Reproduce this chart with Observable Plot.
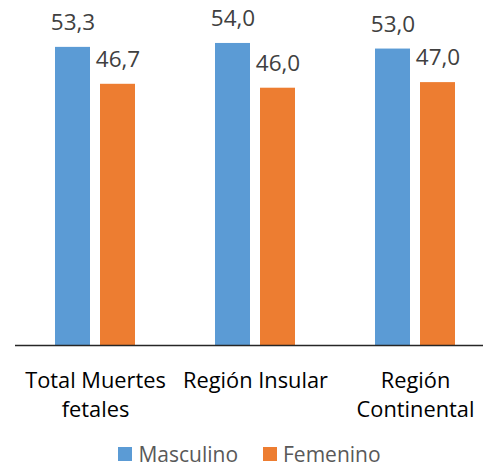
<!DOCTYPE html>
<html>
<head>
<meta charset="utf-8">
<script src="https://cdn.jsdelivr.net/npm/d3@7"></script>
<script src="https://cdn.jsdelivr.net/npm/@observablehq/plot@0.6"></script>
<style>
  html, body { margin: 0; padding: 0; background: #fff; }
  body { width: 483px; height: 468px; overflow: hidden; font-family: "Open Sans", sans-serif; position: relative; }
  #legend { position: absolute; left: 16px; top: 443px; width: 467px; height: 22px; line-height: 22px; display: flex; justify-content: center; align-items: center; font-size: 21px; color: #595959; }
  #legend .item { display: flex; align-items: center; }
  #legend .sw { width: 14px; height: 14px; margin-right: 6px; }
</style>
</head>
<body>
<div id="chart"></div>
<div id="legend"></div>
<script>
const categories = ["Total Muertes\nfetales", "Región Insular", "Región\nContinental"];
const series = ["Masculino", "Femenino"];
const masculino = [53.3, 54.0, 53.0];
const femenino = [46.7, 46.0, 47.0];
const colors = ["#5B9BD5", "#ED7D31"];

const data = [];
categories.forEach((c, i) => {
  data.push({cat: c, serie: series[0], value: masculino[i]});
  data.push({cat: c, serie: series[1], value: femenino[i]});
});

const fmt = v => v.toFixed(1).replace(".", ",");

const chart = Plot.plot({
  width: 483,
  height: 442,
  marginTop: 9.4,
  marginBottom: 97,
  marginLeft: 14,
  marginRight: 0,
  style: {fontFamily: "Open Sans, sans-serif", background: "#fff"},
  fx: {domain: categories, range: [13.75, 495.25], padding: 0, label: null},
  x: {domain: series, paddingInner: 0.217, paddingOuter: 0.853, axis: null},
  y: {domain: [0, 60], axis: null},
  color: {domain: series, range: colors},
  marks: [
    Plot.barY(data, {fx: "cat", x: "serie", y: "value", fill: "serie"}),
    Plot.text(data, {fx: "cat", x: "serie", y: "value", text: d => fmt(d.value), lineAnchor: "bottom", dy: -17.5, fontSize: 22.5, fill: "#404040"}),
    Plot.ruleY([0], {stroke: "#262626", strokeWidth: 1.5}),
    Plot.axisFx({anchor: "bottom", tickSize: 0, tickPadding: 22, fontSize: 21.8, lineHeight: 1.32, fill: "#000", label: null})
  ]
});
document.getElementById("chart").append(chart);

const legend = d3.select("#legend");
series.forEach((s, i) => {
  const item = legend.append("div").attr("class", "item").style("margin-right", i === 0 ? "25px" : "0");
  item.append("div").attr("class", "sw").style("background", colors[i]);
  item.append("span").text(s);
});
</script>
</body>
</html>
